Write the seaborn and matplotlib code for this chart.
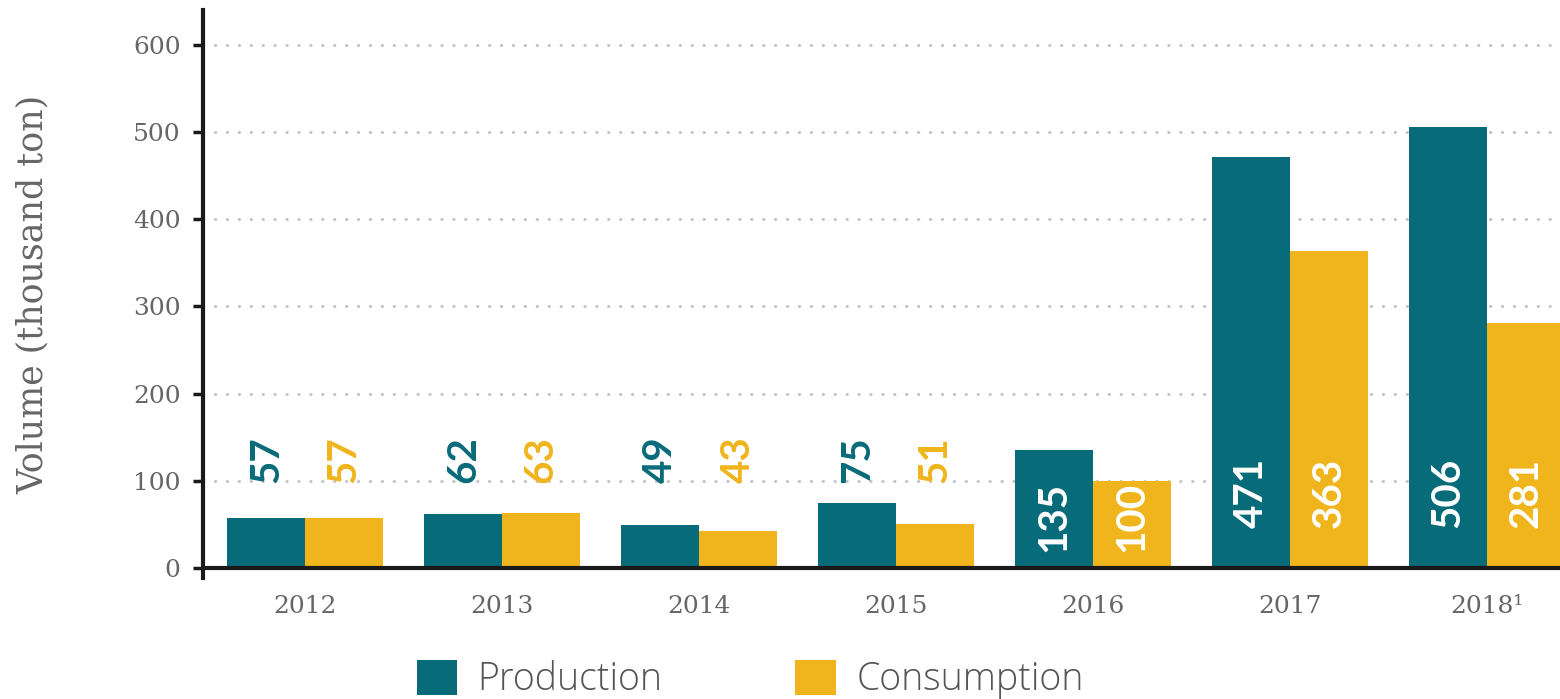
import numpy as np
import pandas as pd
import seaborn as sns
import matplotlib.pyplot as plt

# data
years = ['2012', '2013', '2014', '2015', '2016', '2017', '2018¹']
production = [57, 62, 49, 75, 135, 471, 506]
consumption = [57, 63, 43, 51, 100, 363, 281]
series = ['Production', 'Consumption']
colors = ['#086b79', '#f0b51c']

df = pd.DataFrame({
    'year': years * 2,
    'value': production + consumption,
    'series': [series[0]] * len(years) + [series[1]] * len(years),
})

sns.set_style('white')
plt.rcParams['font.family'] = ['DejaVu Serif']

fig = plt.figure(figsize=(15.6, 6.99), dpi=100)
ax = fig.add_axes([0.130, 0.173, 0.870, 0.813])

sns.barplot(data=df, x='year', y='value', hue='series', palette=colors,
            width=0.79, linewidth=0, saturation=1, ax=ax)

ax.set_xlim(-0.52, 6.37)
ax.set_ylim(-11.5, 640)
ax.set_yticks([0, 100, 200, 300, 400, 500, 600])

# dotted grid
ax.grid(axis='y', color='#c4c4c4', linewidth=2.2, linestyle=(0, (0.1, 3.8)),
        dash_capstyle='round')
ax.set_axisbelow(True)
ax.axhline(0, color='#1a1a1a', linewidth=3, zorder=5)

for s in ['top', 'right', 'bottom']:
    ax.spines[s].set_visible(False)
ax.spines['left'].set_linewidth(3)
ax.spines['left'].set_color('#1a1a1a')

ax.tick_params(axis='y', left=True, length=7, width=2.5, color='#1a1a1a', pad=9,
               labelsize=18, labelcolor='#666666')
ax.tick_params(axis='x', bottom=False, length=0, pad=12, labelsize=18,
               labelcolor='#666666')

ax.set_xlabel('')
ax.set_ylabel('Volume (thousand ton)', fontsize=25, color='#666666')
ax.yaxis.set_label_coords(-0.113, 0.5)

# value labels
bar_w = 0.79 / 2
for j, vals in enumerate([production, consumption]):
    for i, v in enumerate(vals):
        x = i - bar_w / 2 + j * bar_w
        if v < 100:
            ax.text(x, 98, str(v), rotation=90, ha='center', va='bottom',
                    color=colors[j], fontsize=29, family='Lato',
                    fontweight='bold', zorder=6)
        else:
            base = 18 if v < 200 else 46
            ax.text(x, base, str(v), rotation=90, ha='center', va='bottom',
                    color='white', fontsize=29, family='Lato',
                    fontweight='bold', zorder=6)

handles, labels = ax.get_legend_handles_labels()
ax.get_legend().remove()
leg = fig.legend(handles, labels, loc='upper left', bbox_to_anchor=(0.267, 0.056),
                 ncol=2, frameon=False, handlelength=1.07, handleheight=1.07,
                 handletextpad=0.55, columnspacing=3.55, borderpad=0, borderaxespad=0,
                 prop={'family': 'Open Sans', 'size': 27, 'weight': 'light'})
for t in leg.get_texts():
    t.set_color('#555555')

fig.savefig('out.png', dpi=100)
